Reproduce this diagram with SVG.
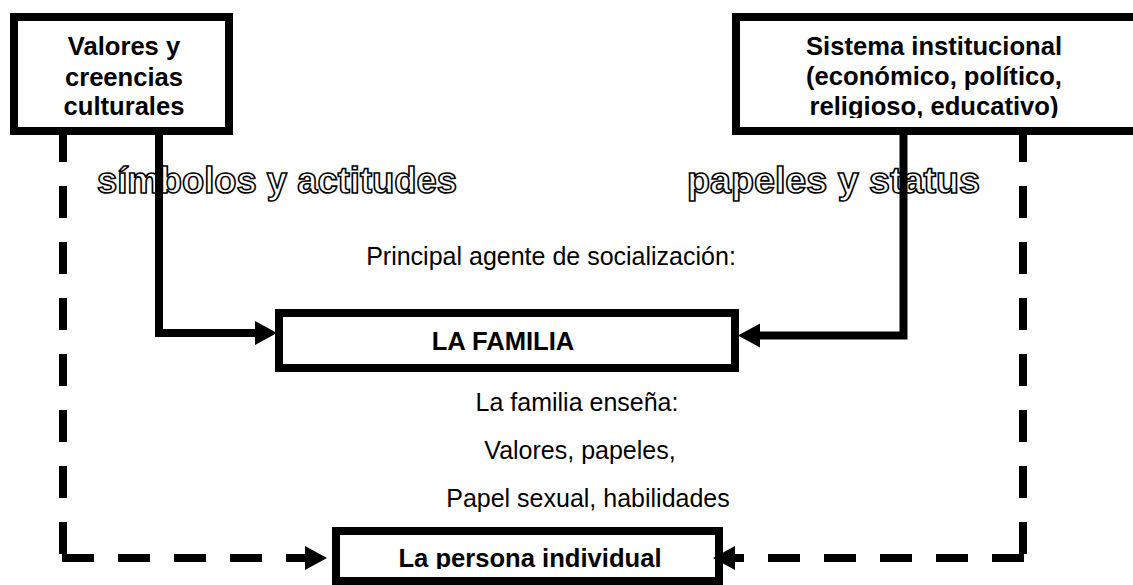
<svg xmlns="http://www.w3.org/2000/svg" width="1133" height="585" viewBox="0 0 1133 585">
  <style>
    .box { fill: #ffffff; stroke: #000000; stroke-width: 8; }
    .bt { font-family: "Liberation Sans", Arial, sans-serif; font-weight: bold; font-size: 25.6px; fill: #000000; text-anchor: middle; }
    .rt { font-family: "Liberation Sans", Arial, sans-serif; font-size: 25px; fill: #000000; text-anchor: middle; }
    .ot { font-family: "Liberation Sans", Arial, sans-serif; font-weight: bold; font-size: 36px; fill: #ffffff; stroke: #000000; stroke-width: 1.6; }
    .solid { fill: none; stroke: #000000; stroke-width: 8; stroke-linejoin: miter; stroke-linecap: butt; }
    .dash { fill: none; stroke: #000000; stroke-width: 8; stroke-dasharray: 32 24; stroke-linecap: butt; }
  </style>
  <defs>
    <marker id="arrow" markerUnits="userSpaceOnUse" markerWidth="24" markerHeight="26" refX="0" refY="12" orient="auto" overflow="visible">
      <path d="M0,0 L22,12 L0,24 Z" fill="#000000"/>
    </marker>
    <clipPath id="clipTop"><rect x="0" y="0" width="1133" height="118"/></clipPath>
    <clipPath id="clipBottom"><rect x="0" y="0" width="1133" height="569"/></clipPath>
  </defs>
  <rect width="1133" height="585" fill="#ffffff"/>

  <g id="node-valores">
    <rect class="box" x="14" y="17" width="215" height="114"/>
    <text class="bt" x="124" y="55">Valores y</text>
    <text class="bt" x="124" y="86">creencias</text>
    <text class="bt" x="124" y="115">culturales</text>
  </g>

  <g id="node-sistema">
    <rect class="box" x="736" y="17" width="420" height="114"/>
    <g clip-path="url(#clipTop)">
      <text class="bt" x="934" y="55">Sistema institucional</text>
      <text class="bt" x="934" y="85">(económico, político,</text>
      <text class="bt" x="934" y="115">religioso, educativo)</text>
    </g>
  </g>

  <g id="label-simbolos">
    <text class="ot" x="97" y="193" textLength="360" lengthAdjust="spacingAndGlyphs">símbolos y actitudes</text>
  </g>
  <g id="label-papeles">
    <text class="ot" x="687" y="193" textLength="293" lengthAdjust="spacingAndGlyphs">papeles y status</text>
  </g>

  <g id="label-principal">
    <text class="rt" x="551" y="265">Principal agente de socialización:</text>
  </g>

  <g id="node-familia">
    <rect class="box" x="279" y="313" width="456" height="55"/>
    <text class="bt" x="503" y="350">LA FAMILIA</text>
  </g>

  <g id="label-ensena">
    <text class="rt" x="577" y="411">La familia enseña:</text>
    <text class="rt" x="580" y="459">Valores, papeles,</text>
    <text class="rt" x="588" y="507">Papel sexual, habilidades</text>
  </g>

  <g id="node-persona">
    <rect class="box" x="336" y="531" width="383" height="50"/>
    <g clip-path="url(#clipBottom)">
      <text class="bt" x="530" y="567">La persona individual</text>
    </g>
  </g>

  <g id="connectors">
    <path class="solid" d="M159,131 V333 H255" marker-end="url(#arrow)"/>
    <path class="solid" d="M903.5,131 V335.5 H760" marker-end="url(#arrow)"/>
    <path class="dash" d="M63,130 V554"/>
    <path class="dash" d="M62,558 H305" marker-end="url(#arrow)"/>
    <path class="dash" d="M1023,130 V554"/>
    <path class="dash" d="M1024,558 H735" marker-end="url(#arrow)"/>
  </g>
</svg>
